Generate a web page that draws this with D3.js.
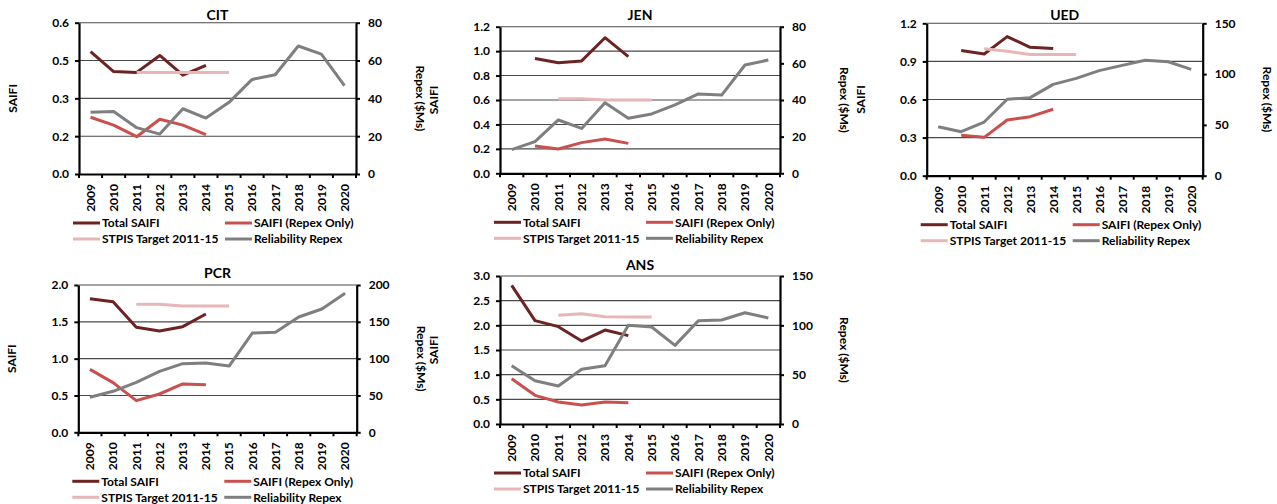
<!DOCTYPE html>
<html>
<head>
<meta charset="utf-8">
<script src="https://cdn.jsdelivr.net/npm/d3@7"></script>
<style>
  html, body { margin: 0; padding: 0; background: #fff; }
  svg { display: block; font-family: Lato, "Open Sans", sans-serif; font-weight: 700; }
</style>
</head>
<body>
<svg id="chart" width="1277" height="504"></svg>
<script>
// Reporting years shared by every panel
const years = ["2009","2010","2011","2012","2013","2014","2015","2016","2017","2018","2019","2020"];

// CIT
const citTotal   = [0.485, 0.406, 0.403, 0.470, 0.392, 0.431, null, null, null, null, null, null];
const citRepexSF = [0.225, 0.194, 0.148, 0.217, 0.194, 0.156, null, null, null, null, null, null];
const citTarget  = [null, null, 0.403, 0.403, 0.403, 0.403, 0.403, null, null, null, null, null];
const citRepex   = [32.6, 33.1, 24.5, 21.1, 34.5, 29.6, 37.9, 50.0, 52.5, 67.7, 63.4, 46.7];
const citLeftTicks  = [0, 0.15, 0.3, 0.45, 0.6];
const citRightTicks = [0, 20, 40, 60, 80];

// JEN
const jenTotal   = [null, 0.940, 0.905, 0.920, 1.110, 0.955, null, null, null, null, null, null];
const jenRepexSF = [null, 0.224, 0.199, 0.251, 0.281, 0.245, null, null, null, null, null, null];
const jenTarget  = [null, null, 0.610, 0.610, 0.600, 0.600, 0.600, null, null, null, null, null];
const jenRepex   = [12.9, 17.3, 29.1, 24.5, 38.5, 30.0, 32.4, 37.3, 43.3, 42.7, 59.1, 61.8];
const jenLeftTicks  = [0, 0.2, 0.4, 0.6, 0.8, 1.0, 1.2];
const jenRightTicks = [0, 20, 40, 60, 80];

// UED
const uedTotal   = [null, 0.985, 0.958, 1.095, 1.011, 1.001, null, null, null, null, null, null];
const uedRepexSF = [null, 0.318, 0.302, 0.439, 0.465, 0.523, null, null, null, null, null, null];
const uedTarget  = [null, null, 1.000, 0.980, 0.955, 0.955, 0.955, null, null, null, null, null];
const uedRepex   = [48.2, 43.3, 52.8, 75.2, 76.8, 89.9, 95.8, 103.4, 108.6, 113.6, 112.2, 104.7];
const uedLeftTicks  = [0, 0.3, 0.6, 0.9, 1.2];
const uedRightTicks = [0, 50, 100, 150];

// PCR
const pcrTotal   = [1.814, 1.774, 1.425, 1.376, 1.434, 1.606, null, null, null, null, null, null];
const pcrRepexSF = [0.855, 0.674, 0.430, 0.520, 0.656, 0.647, null, null, null, null, null, null];
const pcrTarget  = [null, null, 1.738, 1.738, 1.715, 1.715, 1.715, null, null, null, null, null];
const pcrRepex   = [47.5, 55.7, 67.9, 82.8, 93.2, 94.1, 90.0, 134.8, 135.7, 156.6, 167.4, 188.7];
const pcrLeftTicks  = [0, 0.5, 1.0, 1.5, 2.0];
const pcrRightTicks = [0, 50, 100, 150, 200];

// ANS
const ansTotal   = [2.811, 2.095, 1.973, 1.682, 1.905, 1.791, null, null, null, null, null, null];
const ansRepexSF = [0.919, 0.581, 0.446, 0.385, 0.446, 0.432, null, null, null, null, null, null];
const ansTarget  = [null, null, 2.203, 2.236, 2.176, 2.169, 2.169, null, null, null, null, null];
const ansRepex   = [59.1, 43.9, 38.5, 55.4, 59.1, 100.0, 98.3, 79.7, 104.7, 105.4, 112.8, 107.4];
const ansLeftTicks  = [0, 0.5, 1.0, 1.5, 2.0, 2.5, 3.0];
const ansRightTicks = [0, 50, 100, 150];

// Series names and styling
const seriesNames = ["Total SAIFI", "SAIFI (Repex Only)", "STPIS Target 2011-15", "Reliability Repex"];
const seriesColors = ["#6d2323", "#c9504d", "#e8b6b6", "#7f7f7f"];

const panels = [
  { name: "CIT", total: citTotal, repexSF: citRepexSF, target: citTarget, repex: citRepex,
    leftTicks: citLeftTicks, rightTicks: citRightTicks },
  { name: "JEN", total: jenTotal, repexSF: jenRepexSF, target: jenTarget, repex: jenRepex,
    leftTicks: jenLeftTicks, rightTicks: jenRightTicks },
  { name: "UED", total: uedTotal, repexSF: uedRepexSF, target: uedTarget, repex: uedRepex,
    leftTicks: uedLeftTicks, rightTicks: uedRightTicks },
  { name: "PCR", total: pcrTotal, repexSF: pcrRepexSF, target: pcrTarget, repex: pcrRepex,
    leftTicks: pcrLeftTicks, rightTicks: pcrRightTicks },
  { name: "ANS", total: ansTotal, repexSF: ansRepexSF, target: ansTarget, repex: ansRepex,
    leftTicks: ansLeftTicks, rightTicks: ansRightTicks }
];

// Plot-area frames for each panel (left, right, top, bottom) and title baseline
const frames = [
  { l: 79,    r: 356,   t: 22.7, b: 174,   ty: 20 },
  { l: 500,   r: 780,   t: 26.7, b: 173.3, ty: 20 },
  { l: 926.7, r: 1202.7,t: 23.3, b: 175.7, ty: 20 },
  { l: 78.3,  r: 356.7, t: 285,  b: 432.3, ty: 278 },
  { l: 500,   r: 780,   t: 276,  b: 424,   ty: 270 }
];

// One-decimal labels, rounding halves upward (0.15 -> 0.2, 0.45 -> 0.5)
const fmtLeft = d => (Math.round(d * 10 + 1e-9) / 10).toFixed(1);

const svg = d3.select("#chart");

panels.forEach((p, i) => {
  const f = frames[i];
  const g = svg.append("g");

  const x = d3.scaleBand().domain(years).range([f.l, f.r]);
  const yL = d3.scaleLinear().domain([0, d3.max(p.leftTicks)]).range([f.b, f.t]);
  const yR = d3.scaleLinear().domain([0, d3.max(p.rightTicks)]).range([f.b, f.t]);
  const cx = d => x(d) + x.bandwidth() / 2;

  // Horizontal gridlines at the primary-axis ticks
  g.append("g").selectAll("line")
    .data(p.leftTicks.filter(v => v > 0))
    .join("line")
    .attr("x1", f.l).attr("x2", f.r)
    .attr("y1", d => yL(d)).attr("y2", d => yL(d))
    .attr("stroke", "#4a4a4a").attr("stroke-width", 1.1);

  // Series lines
  const leftSeries = [p.total, p.repexSF, p.target];
  leftSeries.forEach((vals, k) => {
    const line = d3.line()
      .defined(d => d[1] != null)
      .x(d => cx(d[0]))
      .y(d => yL(d[1]));
    g.append("path")
      .datum(years.map((yv, j) => [yv, vals[j]]))
      .attr("d", line)
      .attr("fill", "none")
      .attr("stroke", seriesColors[k])
      .attr("stroke-width", 3)
      .attr("stroke-linejoin", "round");
  });
  const repexLine = d3.line()
    .defined(d => d[1] != null)
    .x(d => cx(d[0]))
    .y(d => yR(d[1]));
  g.append("path")
    .datum(years.map((yv, j) => [yv, p.repex[j]]))
    .attr("d", repexLine)
    .attr("fill", "none")
    .attr("stroke", seriesColors[3])
    .attr("stroke-width", 3)
    .attr("stroke-linejoin", "round");

  // Left axis
  const axL = g.append("g")
    .attr("transform", `translate(${f.l},0)`)
    .call(d3.axisLeft(yL).tickValues(p.leftTicks).tickFormat(fmtLeft)
      .tickSize(4).tickPadding(6).tickSizeOuter(0));
  // Right axis
  const axR = g.append("g")
    .attr("transform", `translate(${f.r},0)`)
    .call(d3.axisRight(yR).tickValues(p.rightTicks).tickFormat(d3.format("d"))
      .tickSize(4).tickPadding(8).tickSizeOuter(0));
  // Bottom axis: labels at category centres
  const axB = g.append("g")
    .attr("transform", `translate(0,${f.b})`)
    .call(d3.axisBottom(x).tickSize(0).tickSizeOuter(0));
  axB.selectAll("text")
    .attr("transform", "rotate(-90)")
    .attr("text-anchor", "end")
    .attr("x", -10)
    .attr("y", 0)
    .attr("dy", "0.36em");
  // Category boundary ticks
  g.append("g").selectAll("line")
    .data(d3.range(years.length + 1))
    .join("line")
    .attr("x1", k => f.l + k * x.step()).attr("x2", k => f.l + k * x.step())
    .attr("y1", f.b).attr("y2", f.b + 4)
    .attr("stroke", "#000").attr("stroke-width", 2);

  [axL, axR, axB].forEach(a => {
    a.selectAll(".domain").attr("stroke", "#000").attr("stroke-width", 2.2);
    a.selectAll(".tick line").attr("stroke", "#000").attr("stroke-width", 2);
    a.selectAll("text").attr("font-family", "Lato, sans-serif")
      .attr("font-weight", 700).attr("font-size", 12).attr("fill", "#000");
  });

  // Title
  g.append("text")
    .attr("x", (f.l + f.r) / 2).attr("y", f.ty)
    .attr("text-anchor", "middle")
    .attr("font-size", 14).attr("font-weight", 700)
    .text(p.name);

  // Axis titles
  const midY = (f.t + f.b) / 2;
  g.append("text")
    .attr("transform", `translate(${f.l - 62},${midY}) rotate(-90)`)
    .attr("text-anchor", "middle")
    .attr("font-size", 12)
    .text("SAIFI");
  g.append("text")
    .attr("transform", `translate(${f.r + 60},${midY}) rotate(90)`)
    .attr("text-anchor", "middle")
    .attr("font-size", 12)
    .text("Repex ($Ms)");

  // Legend (two columns, two rows)
  const legendItems = [0, 1, 2, 3].map(k => ({
    name: seriesNames[k], color: seriesColors[k],
    x: f.l + (k % 2 === 0 ? -6 : 146),
    y: f.b + (k < 2 ? 49 : 65)
  }));
  const lg = g.append("g").selectAll("g").data(legendItems).join("g")
    .attr("transform", d => `translate(${d.x},${d.y})`);
  lg.append("line")
    .attr("x1", 0).attr("x2", 27).attr("y1", 0).attr("y2", 0)
    .attr("stroke", d => d.color).attr("stroke-width", 3);
  lg.append("text")
    .attr("x", 29).attr("y", 0).attr("dy", "0.36em")
    .attr("font-size", 12)
    .text(d => d.name);
});
</script>
</body>
</html>
